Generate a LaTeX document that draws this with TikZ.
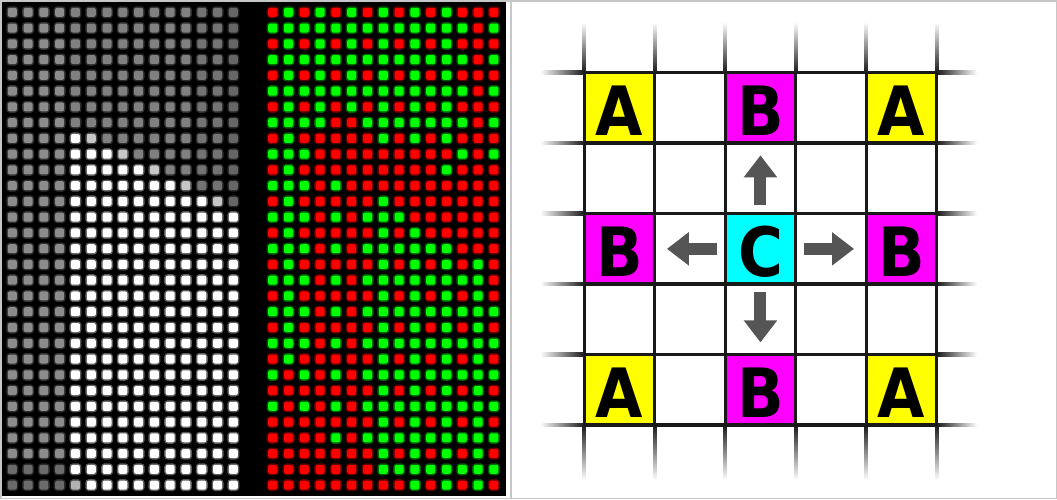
\documentclass[tikz,border=0pt]{standalone}
\usepackage{fontspec}
\newfontfamily\cellfont[FakeStretch=0.9]{DejaVu Sans Bold}
\usetikzlibrary{arrows.meta}
\definecolor{dotr}{HTML}{FF0000}
\definecolor{dotg}{HTML}{00FF00}
\definecolor{cellyellow}{HTML}{FFFF00}
\definecolor{cellmagenta}{HTML}{FF00FF}
\definecolor{cellcyan}{HTML}{00FFFF}
\definecolor{arrgray}{HTML}{555555}
\tikzstyle{pix} = [rounded corners=2pt]
\tikzstyle{halo} = [rounded corners=3.5pt, opacity=0.35]
\tikzstyle{cell} = [minimum size=70.5pt, inner sep=0pt, text height=55.5pt, text depth=0pt, font=\cellfont\fontsize{68}{68}\selectfont]
\tikzstyle{gridline} = [line width=3.3pt, black!90]
\tikzstyle{arrow} = [line width=12pt, arrgray, -{Triangle[width=32pt,length=22pt]}]

\begin{document}
\begin{tikzpicture}[x=1pt,y=-1pt]
\useasboundingbox (0,0) rectangle (1057,499);
\draw [line width=1.5pt, black!22] (0.75,0.75) rectangle (1056.25,498.25);
\draw [line width=1.5pt, black!22] (511,0) -- (511,499);
\fill [black] (2,2) rectangle (506,496);

% intensity dots
\foreach \i in {0,...,14} {
  \foreach \k in {0,...,30} {
    \pgfmathtruncatemacro\t{2*(\k-8)-(\i-4)}
    \pgfmathtruncatemacro\lev{\i<4 ? (\k>28 ? 42 : 55) : ((\k==30 && \i==4) ? 70 : (\t>=0 ? 100 : (\t==-1 ? 78 : (\i>13 ? 40 : (\i>11 ? 45 : 50)))))}
    \fill [halo, white!\lev!black] ({12.3+15.79*\i-6},{12.3+15.76*\k-6}) rectangle ++(12,12);
    \fill [pix, white!\lev!black] ({12.3+15.79*\i-4.5},{12.3+15.76*\k-4.5}) rectangle ++(9,9);
  }
}

% label dots
\foreach \rowlist [count=\k from 0] in {
  {r,g,r,g,r,g,r,g,r,g,r,g,r,r,r},
  {g,g,g,g,g,g,g,g,g,g,g,g,g,r,g},
  {r,g,r,g,r,g,r,g,r,g,r,g,r,r,r},
  {g,g,g,g,g,g,g,g,g,g,g,g,g,r,g},
  {r,g,r,g,r,g,r,g,r,g,r,g,r,r,r},
  {g,g,g,g,g,g,g,g,g,g,g,g,g,r,g},
  {r,g,r,g,r,g,r,g,r,g,r,g,r,r,r},
  {g,g,g,g,r,r,g,g,g,g,g,g,g,r,g},
  {r,g,r,r,r,r,r,g,r,g,r,g,r,r,r},
  {g,g,g,r,r,r,r,r,r,r,r,r,g,r,g},
  {r,g,r,r,r,r,r,r,r,r,r,g,r,r,r},
  {g,g,g,r,g,r,r,r,r,r,r,r,r,r,r},
  {r,g,r,r,r,r,r,g,r,r,r,r,r,r,r},
  {g,g,g,r,g,r,g,g,g,r,r,r,r,r,r},
  {r,g,r,r,r,r,r,g,r,g,r,r,r,r,r},
  {g,g,g,r,g,r,g,g,g,g,g,g,r,r,r},
  {r,g,r,r,r,r,r,g,r,g,r,g,r,g,r},
  {g,g,g,r,g,r,g,g,g,g,g,g,g,g,r},
  {r,g,r,r,r,r,r,g,r,g,r,g,r,g,r},
  {g,g,g,r,g,r,g,g,g,g,g,g,g,g,g},
  {r,g,r,r,r,r,r,g,r,g,r,g,r,g,r},
  {g,g,g,r,g,r,g,g,g,g,g,g,g,g,g},
  {r,g,r,r,r,r,r,g,r,g,r,g,r,g,r},
  {g,r,g,r,g,r,g,g,g,g,g,g,g,g,g},
  {r,r,r,r,r,r,r,g,r,g,r,g,r,g,r},
  {g,r,g,r,g,r,g,g,g,g,g,g,g,g,g},
  {r,r,r,r,r,r,r,g,r,g,r,g,r,g,r},
  {r,r,r,r,g,r,g,g,g,g,g,g,g,g,g},
  {r,r,r,r,r,r,r,g,r,g,r,g,r,g,r},
  {r,r,r,r,r,r,r,g,g,g,g,g,g,g,g},
  {r,r,r,r,r,r,r,r,r,g,r,g,r,g,r}} {
  \foreach \c [count=\j from 0] in \rowlist {
    \fill [halo, dot\c] ({272.7+15.8*\j-6},{12.3+15.76*\k-6}) rectangle ++(12,12);
    \fill [pix, dot\c] ({272.7+15.8*\j-4.5},{12.3+15.76*\k-4.5}) rectangle ++(9,9);
  }
}

\node [cell, fill=cellyellow] (A1) at (619.45,107.85) {A};
\node [cell, fill=cellmagenta] (Bn) at (760.45,107.85) {B};
\node [cell, fill=cellyellow] (A2) at (901.45,107.85) {A};
\node [cell, fill=cellmagenta] (Bw) at (619.45,248.85) {B};
\node [cell, fill=cellcyan] (C) at (760.45,248.85) {C};
\node [cell, fill=cellmagenta] (Be) at (901.45,248.85) {B};
\node [cell, fill=cellyellow] (A3) at (619.45,389.85) {A};
\node [cell, fill=cellmagenta] (Bs) at (760.45,389.85) {B};
\node [cell, fill=cellyellow] (A4) at (901.45,389.85) {A};

\foreach \c in {0,...,5} {
  \draw [gridline] ({584.2+70.5*\c},72.6) -- ({584.2+70.5*\c},425.1);
  \draw [gridline] (584.2,{72.6+70.5*\c}) -- (936.7,{72.6+70.5*\c});
  \shade [top color=white, bottom color=black!90] ({582.55+70.5*\c},22) rectangle ({585.85+70.5*\c},72.6);
  \shade [top color=black!90, bottom color=white] ({582.55+70.5*\c},425.1) rectangle ({585.85+70.5*\c},480);
  \shade [left color=white, right color=black!90] (540,{70.95+70.5*\c}) rectangle (584.2,{74.25+70.5*\c});
  \shade [left color=black!90, right color=white] (936.7,{70.95+70.5*\c}) rectangle (977,{74.25+70.5*\c});
}

\draw [arrow] ([yshift=8pt]C.north) -- ([yshift=-12pt]Bn.south);
\draw [arrow] ([yshift=-8pt]C.south) -- ([yshift=12pt]Bs.north);
\draw [arrow] ([xshift=-8pt]C.west) -- ([xshift=12pt]Bw.east);
\draw [arrow] ([xshift=8pt]C.east) -- ([xshift=-12pt]Be.west);
\end{tikzpicture}
\end{document}
